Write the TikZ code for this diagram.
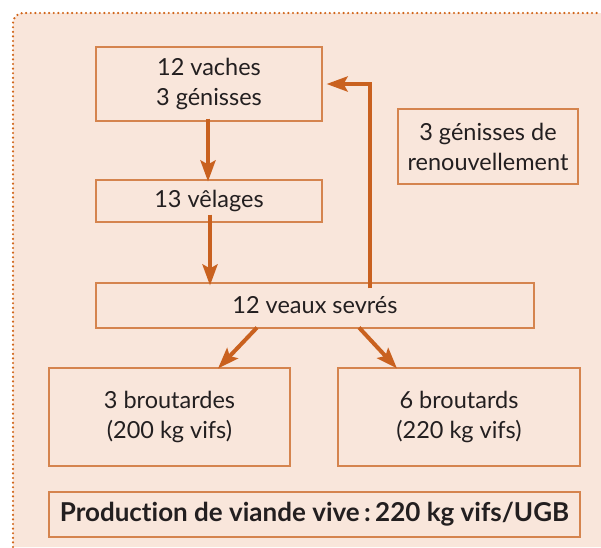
\documentclass[tikz,border=0pt]{standalone}
\usepackage{fontspec}
\setmainfont{Lato}[Ligatures=NoCommon]
\usetikzlibrary{arrows.meta}
\definecolor{panelfill}{HTML}{F9E6DB}
\definecolor{boxline}{HTML}{D5844E}
\definecolor{flowcol}{HTML}{C9611F}
\definecolor{inkcol}{HTML}{231F20}

\begin{document}
\begin{tikzpicture}[x=1pt,y=-1pt,
  herdbox/.style={draw=boxline,line width=1.1pt,fill=panelfill,text=inkcol,
    align=center,inner sep=0pt,font=\fontsize{23.5}{30}\selectfont},
  flow/.style={draw=flowcol,line width=4pt,
    -{Stealth[length=21pt,width=15pt,inset=4pt]}}]
\useasboundingbox (0,0) rectangle (601,547);
\fill[panelfill] (13,547) -- (13,23) arc[start angle=180,end angle=270,radius=10] -- (601,13) -- (601,547) -- cycle;
\draw[flowcol!85!orange,line width=2.4pt,line cap=round,dash pattern=on 0pt off 4.6pt]
  (13,547) -- (13,23) arc[start angle=180,end angle=270,radius=10] -- (601,13);
\node[herdbox,minimum width=226pt,minimum height=74pt] (vaches) at (209,84) {12 vaches\\3 génisses};
\node[herdbox,minimum width=226pt,minimum height=42pt] (velages) at (209,201) {13 vêlages};
\node[herdbox,minimum width=180pt,minimum height=75pt] (renouv) at (488,146.5) {3 génisses de\\renouvellement};
\node[herdbox,minimum width=438pt,minimum height=45pt] (veaux) at (315,305.5) {12 veaux sevrés};
\node[herdbox,minimum width=241pt,minimum height=98pt] (femelles) at (169.5,417) {3 broutardes\\(200 kg vifs)};
\node[herdbox,minimum width=242pt,minimum height=98pt] (males) at (459,417) {6 broutards\\(220 kg vifs)};
\node[herdbox,minimum width=531pt,minimum height=45pt,font=\fontsize{26}{30}\selectfont\bfseries] (prod) at (314.5,514.5) {Production de viande vive\,:\,220 kg vifs/UGB};
\coordinate (retour) at (370,0);
\draw[flow] ([yshift=3pt]vaches.south -| 208,0) -- ([yshift=-2pt]velages.north -| 208,0);
\draw[flow] ([yshift=8pt]velages.south -| 210,0) -- ([yshift=-3pt]veaux.north -| 210,0);
\draw[flow] ([yshift=-6pt]veaux.north -| retour) |- ([xshift=4pt]vaches.east);
\draw[flow] ([xshift=-58pt,yshift=1pt]veaux.south) -- ([xshift=48.5pt,yshift=-1pt]femelles.north);
\draw[flow] ([xshift=44pt,yshift=1pt]veaux.south) -- ([xshift=-62pt,yshift=-1pt]males.north);
\end{tikzpicture}
\end{document}
